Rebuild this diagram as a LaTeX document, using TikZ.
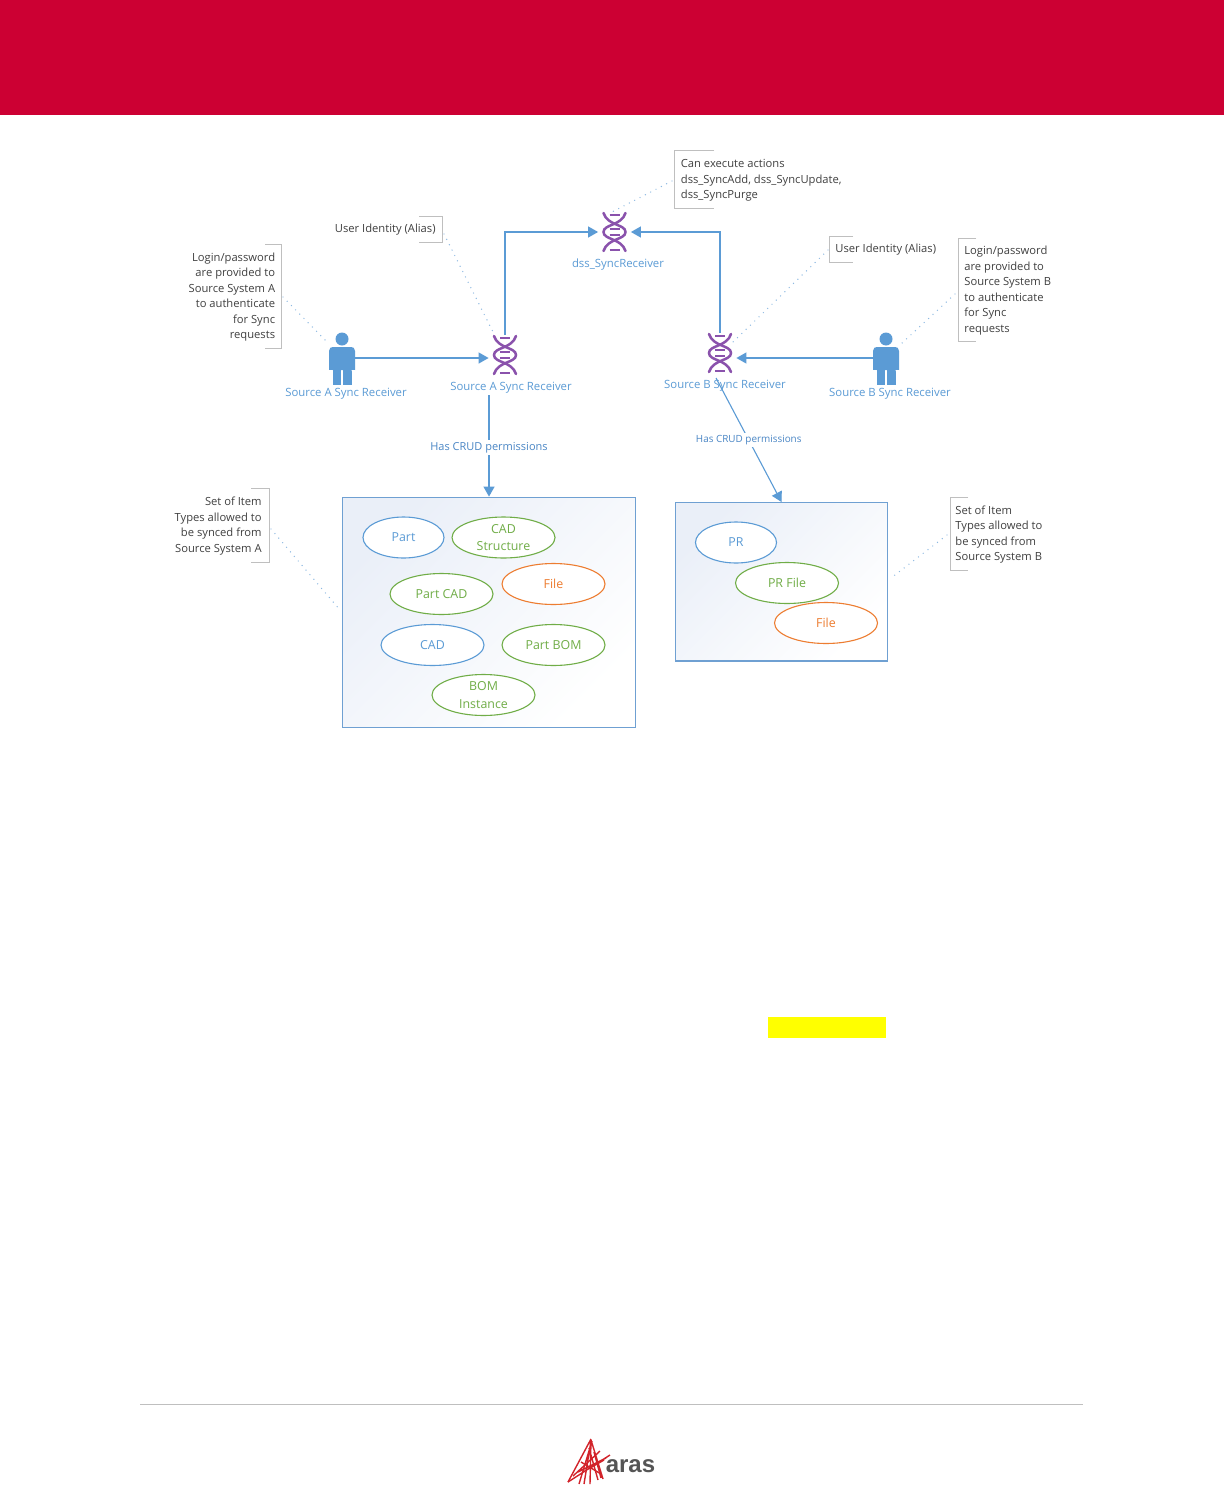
\documentclass[tikz,border=0pt]{standalone}
\usepackage{fontspec}
\setmainfont{Open Sans}
\newfontfamily\logofont{Liberation Sans}
\usetikzlibrary{shapes.geometric,arrows.meta,calc}
\definecolor{arasred}{HTML}{CC0033}
\definecolor{logored}{HTML}{D2232A}
\definecolor{logogray}{HTML}{555555}
\definecolor{hilite}{HTML}{FFFF00}
\definecolor{sblue}{HTML}{5B9BD5}
\definecolor{dblue}{HTML}{4A86C5}
\definecolor{sgreen}{HTML}{70AD47}
\definecolor{sorange}{HTML}{ED7D31}
\definecolor{spurple}{HTML}{8A52AC}
\definecolor{gtext}{HTML}{404040}
\definecolor{brk}{HTML}{BFBFBF}
\definecolor{boxline}{HTML}{6FA0D2}
\definecolor{dots}{HTML}{8DB9E2}
\definecolor{boxshade}{HTML}{EAEFF8}
\tikzset{
  x=0.5pt,y=-0.5pt,
  lbl/.style={font=\fontsize{5.68}{7.75}\selectfont,text=sblue,inner sep=0pt},
  note/.style={font=\fontsize{5.6}{7.75}\selectfont,text=gtext,inner sep=0pt},
  noteR/.style={note,align=right,anchor=east},
  noteL/.style={note,align=left,anchor=west},
  bracket/.style={draw=brk,line width=0.5pt},
  leader/.style={draw=dots,line width=0.7pt,line cap=round,dash pattern=on 0pt off 3pt},
  conn/.style={draw=sblue,line width=0.55pt,-{Triangle[length=5pt,width=5.5pt]}},
  iconbox/.style={inner sep=0pt,minimum width=16pt,minimum height=20pt},
  personbox/.style={inner sep=0pt,minimum width=13pt,minimum height=10pt},
  itembox/.style={draw=boxline,line width=0.6pt,inner sep=0pt,shading=axis,top color=boxshade,middle color=white,bottom color=white,shading angle=45},
  item/.style={ellipse,fill=white,line width=0.55pt,inner sep=0pt,minimum width=51.5pt,minimum height=20.5pt,align=center,font=\fontsize{6.2}{8.6}\selectfont},
  smallitem/.style={minimum width=40.5pt},
  bitem/.style={item,draw=sblue,text=sblue},
  gitem/.style={item,draw=sgreen,text=sgreen},
  oitem/.style={item,draw=sorange,text=sorange},
  dnaicon/.pic={
    \draw[spurple,line width=1.25pt,line cap=round]
      (-11,-19) .. controls (-7,-6) and (11,-8) .. (11,0) .. controls (11,8) and (-7,6) .. (-11,19);
    \draw[spurple,line width=1.25pt,line cap=round]
      (11,-19) .. controls (7,-6) and (-11,-8) .. (-11,0) .. controls (-11,8) and (7,6) .. (11,19);
    \draw[spurple,line width=1pt] (-5,-17.5) -- (5,-17.5) (-5,-3) -- (5,-3) (-5,3) -- (5,3) (-5,17.5) -- (5,17.5);
  },
  personicon/.pic={
    \fill[sblue] (0,-19) circle[radius=6.5];
    \fill[sblue] (-13,12) -- (-13,-7) .. controls (-13,-10) and (-11,-11) .. (-9,-11) -- (9,-11) .. controls (11,-11) and (13,-10) .. (13,-7) -- (13,12) -- cycle;
    \fill[sblue] (-9.5,11) rectangle (-0.8,27);
    \fill[sblue] (0.8,11) rectangle (9.5,27);
    \fill[white] (-13.5,12) rectangle (-9.5,13) (13.5,12) rectangle (9.5,13);
  }
}
\begin{document}
\begin{tikzpicture}
\useasboundingbox (0,0) rectangle (1224,1488);
\fill[white] (0,0) rectangle (1224,1488);
\fill[arasred] (0,0) rectangle (1224,115);
\fill[hilite] (768,1017) rectangle (886,1037.5);
\draw[brk,line width=0.4pt] (140,1404.5) -- (1083,1404.5);

% item-type boxes
\node[itembox,minimum width=146.2pt,minimum height=115.3pt] (boxA) at (489,612.5) {};
\node[itembox,minimum width=106pt,minimum height=79.2pt] (boxB) at (781.5,581.8) {};
\node[bitem,smallitem] (ePart) at (403.5,537.5) {Part};
\node[gitem] (eCadS) at (503.5,537.5) {CAD\\Structure};
\node[oitem] (eFile) at (553.5,584) {File};
\node[gitem] (ePCad) at (441.5,594) {Part CAD};
\node[bitem] (eCad) at (432.5,645) {CAD};
\node[gitem] (ePBom) at (553.5,645) {Part BOM};
\node[gitem] (eBom) at (483.5,695) {BOM\\Instance};
\node[bitem,smallitem] (ePR) at (736,542.5) {PR};
\node[gitem] (ePRF) at (787,583) {PR File};
\node[oitem] (eFileB) at (826,623) {File};

% icons
\node[iconbox] (dT) at (614.5,232) {};
\node[iconbox] (dA) at (505,355) {};
\node[iconbox] (dB) at (720,353) {};
\node[personbox] (pA) at (342,358) {};
\node[personbox] (pB) at (886,358) {};
\pic at (dT) {dnaicon};
\pic at (dA) {dnaicon};
\pic at (dB) {dnaicon};
\pic at (pA) {personicon};
\pic at (pB) {personicon};

% icon labels
\node[lbl] (lT) at (618,264.5) {dss\_SyncReceiver};
\node[lbl] (lA) at (511,387.5) {Source A Sync Receiver};
\node[lbl] (lB) at (725,385.5) {Source B Sync Receiver};
\node[lbl] (lpA) at (346,393.5) {Source A Sync Receiver};
\node[lbl] (lpB) at (890,393.5) {Source B Sync Receiver};

% connectors
\draw[conn] (pA.east) -- (dA.west |- pA.east);
\draw[conn] (pB.west) -- (dB.east |- pB.west);
\draw[conn] (dA.north) |- (dT.west);
\draw[conn] (dB.north) |- (dT.east);
\coordinate (cA) at (boxA.north |- 0,395);
\draw[conn] (cA) -- node[lbl,fill=white,text=dblue,inner ysep=1pt,font=\fontsize{5.5}{7}\selectfont,yshift=-0.8pt] (crudA) {Has CRUD permissions} (boxA.north);
\coordinate (cB) at (716,378);
\draw[conn] (cB) -- node[lbl,fill=white,text=dblue,inner ysep=1pt,font=\fontsize{4.95}{7}\selectfont] (crudB) {Has CRUD permissions} (boxB.north);

% callouts
\node[noteR] (nLogA) at (275.5,297) {Login/password\\are provided to\\Source System A\\to authenticate\\for Sync\\requests};
\draw[bracket] (265,244.5) -- (281.5,244.5) -- (281.5,348) -- (265,348);
\node[noteR] (nUA) at (436,230) {User Identity (Alias)};
\draw[bracket] (419,216) -- (442,216) -- (442,242) -- (419,242);
\node[noteL] (nExe) at (680.5,180.5) {Can execute actions\\dss\_SyncAdd, dss\_SyncUpdate,\\dss\_SyncPurge};
\draw[bracket] (714,150.5) -- (674.5,150.5) -- (674.5,208) -- (714,208);
\node[noteL] (nUB) at (835,250) {User Identity (Alias)};
\draw[bracket] (853,236) -- (829.5,236) -- (829.5,262.5) -- (853,262.5);
\node[noteL] (nLogB) at (964,290.5) {Login/password\\are provided to\\Source System B\\to authenticate\\for Sync\\requests};
\draw[bracket] (976,238) -- (958.5,238) -- (958.5,341) -- (976,341);
\node[noteR] (nSetA) at (262,526) {Set of Item\\Types allowed to\\be synced from\\Source System A};
\draw[bracket] (251,488.5) -- (269,488.5) -- (269,562) -- (251,562);
\node[noteL] (nSetB) at (955,534.5) {Set of Item\\Types allowed to\\be synced from\\Source System B};
\draw[bracket] (968,497) -- (950,497) -- (950,570) -- (968,570);

% dotted leaders
\coordinate (a1) at (283,297); \coordinate (a2) at (328,343);
\coordinate (b1) at (444,234); \coordinate (b2) at (493,332);
\coordinate (c1) at (672,181); \coordinate (c2) at (612,212);
\coordinate (d1) at (828,250); \coordinate (d2) at (733,342);
\coordinate (e1) at (955,294); \coordinate (e2) at (901,344);
\coordinate (f1) at (271,529); \coordinate (f2) at (340,610);
\coordinate (g1) at (947,535); \coordinate (g2) at (891,578);
\draw[leader] (a1) -- (a2);
\draw[leader] (b1) -- (b2);
\draw[leader] (c1) -- (c2);
\draw[leader] (d1) -- (d2);
\draw[leader] (e1) -- (e2);
\draw[leader] (f1) -- (f2);
\draw[leader] (g1) -- (g2);

% logo
\begin{scope}[logored,line width=0.7pt]
\draw (591,1439) -- (568,1482) (592,1441) -- (579,1484) (591,1441) -- (584,1484) (591,1440) -- (590,1484) (591,1440) -- (603,1479) (589,1448) -- (598,1480) (594,1452) -- (601,1478);
\draw (568,1482) -- (610,1455) (573,1476) -- (600,1451) (578,1472) -- (606,1458) (581,1462) -- (601,1474) (583,1472) -- (604,1460);
\end{scope}
\node[inner sep=0pt,text=logogray,font=\logofont\bfseries\fontsize{12}{12}\selectfont] (logo) at (630.5,1466) {aras};
\end{tikzpicture}
\end{document}
